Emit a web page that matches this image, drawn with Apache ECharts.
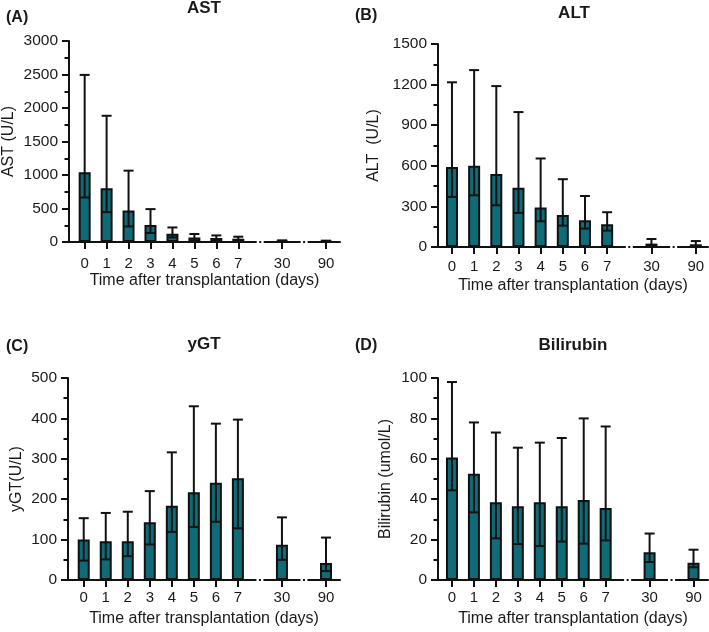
<!DOCTYPE html>
<html><head><meta charset="utf-8">
<script src="https://cdn.jsdelivr.net/npm/echarts@6/dist/echarts.min.js"></script>
<style>html,body{margin:0;padding:0;background:#fff}#c{width:709px;height:632px}</style>
</head><body><div id="c"></div>
<script>
// ---- data ----
const dayLabels = ['0','1','2','3','4','5','6','7','30','90'];
const dayPositions = [0,1,2,3,4,5,6,7,9,11];   // slot index on the x axis (gaps at 8 and 10)
const breakPositions = [8,10];

const astMean = [1042, 804, 470, 253, 124, 69, 60, 49, 12, 12];
const astLow  = [664, 446, 232, 134, 68, 24, 30, 20, 5, 5];
const astHigh = [2494, 1884, 1065, 491, 217, 119, 98, 79, 25, 20];

const altMean = [592, 600, 540, 437, 291, 237, 197, 168, 25, 20];
const altLow  = [370, 382, 308, 252, 190, 158, 136, 121, 0, 0];
const altHigh = [1217, 1307, 1189, 997, 654, 501, 377, 257, 59, 44];

const ygtMean = [100, 96, 96, 143, 184, 217, 241, 252, 87, 42];
const ygtLow  = [48, 51, 59, 88, 119, 131, 144, 128, 50, 22];
const ygtHigh = [153, 166, 169, 220, 316, 430, 387, 397, 155, 105];

const biliMean = [60.7, 52.6, 38.5, 36.5, 38.5, 36.5, 39.6, 35.6, 13.7, 8.6];
const biliLow  = [44.4, 33.5, 20.6, 17.8, 16.8, 19.0, 18.0, 19.6, 8.9, 6.3];
const biliHigh = [98, 78, 73, 65.5, 68, 70.3, 80, 76, 23, 15];

const yTicksAST = {max: 3000, interval: 500};
const yTicksALT = {max: 1500, interval: 300};
const yTicksYGT = {max: 500, interval: 100};
const yTicksBili = {max: 100, interval: 20};

// ---- styling ----
const FONT = 'Liberation Sans';
const INK = '#111';
const TXT = '#1a1a1a';
const BAR = '#0f6b77';

const panels = [
  {grid:{left:68, top:41, width:272, height:201}, xmin:-0.714, xmax:11.636, yt:yTicksAST, yname:'AST (U/L)', ygap:52, xlm:14,
   mean:astMean, low:astLow, high:astHigh, title:'AST', tx:204, ty:8, tag:'(A)', gx:6, gy:18},
  {grid:{left:438, top:44, width:270, height:203}, xmin:-0.63, xmax:11.55, yt:yTicksALT, yname:'ALT  (U/L)', ygap:56, xlm:12,
   mean:altMean, low:altLow, high:altHigh, title:'ALT', tx:574, ty:13, tag:'(B)', gx:355, gy:16},
  {grid:{left:68, top:378, width:272, height:202}, xmin:-0.714, xmax:11.636, yt:yTicksYGT, yname:'yGT(U/L)', ygap:43, xlm:10,
   mean:ygtMean, low:ygtLow, high:ygtHigh, title:'yGT', tx:204, ty:344, tag:'(C)', gx:6, gy:347},
  {grid:{left:438, top:378, width:270, height:202}, xmin:-0.636, xmax:11.66, yt:yTicksBili, yname:'Bilirubin (umol/L)', ygap:44, xlm:10,
   mean:biliMean, low:biliLow, high:biliHigh, title:'Bilirubin', tx:573, ty:345, tag:'(D)', gx:355, gy:346}
];

const grids = [], xAxes = [], yAxes = [], series = [], graphics = [];

panels.forEach((p, gi) => {
  grids.push(Object.assign({containLabel:false}, p.grid));
  xAxes.push({
    type:'value', gridIndex:gi, min:p.xmin, max:p.xmax,
    axisLine:{show:true, onZero:false, lineStyle:{color:INK, width:2}},
    axisTick:{show:true, length:7, customValues:dayPositions, lineStyle:{color:INK, width:2}},
    axisLabel:{customValues:dayPositions, formatter:v => dayLabels[dayPositions.indexOf(v)],
      fontSize:15, color:TXT, fontFamily:FONT, margin:p.xlm},
    splitLine:{show:false},
    name:'Time after transplantation (days)', nameLocation:'middle', nameGap:31,
    nameTextStyle:{fontSize:16, color:TXT, fontFamily:FONT}
  });
  yAxes.push({
    type:'value', gridIndex:gi, min:0, max:p.yt.max, interval:p.yt.interval,
    axisLine:{show:true, onZero:false, lineStyle:{color:INK, width:2}},
    axisTick:{show:true, length:7, lineStyle:{color:INK, width:2}},
    minorTick:{show:true, splitNumber:2, length:4.5, lineStyle:{color:INK, width:2}},
    axisLabel:{fontSize:15.5, color:TXT, fontFamily:FONT, margin:11, formatter:v => String(v)},
    splitLine:{show:false},
    name:p.yname, nameLocation:'middle', nameGap:p.ygap,
    nameTextStyle:{fontSize:16, color:TXT, fontFamily:FONT}
  });
  series.push({
    type:'bar', xAxisIndex:gi, yAxisIndex:gi, barWidth:12,
    data:dayPositions.map((x,i) => [x, p.mean[i]]),
    itemStyle:{color:BAR, borderColor:INK, borderWidth:2},
    z:2, silent:true
  });
  series.push({
    type:'custom', xAxisIndex:gi, yAxisIndex:gi, z:4, silent:true,
    data:dayPositions.map((x,i) => [x, p.low[i], p.high[i]]),
    encode:{x:0, y:[1,2]},
    renderItem:(params, api) => {
      const lo = api.coord([api.value(0), api.value(1)]);
      const hi = api.coord([api.value(0), api.value(2)]);
      const hw = 5;
      const st = {stroke:INK, lineWidth:2, fill:null};
      return {type:'group', children:[
        {type:'line', shape:{x1:lo[0], y1:lo[1], x2:hi[0], y2:hi[1]}, style:st},
        {type:'line', shape:{x1:hi[0]-hw, y1:hi[1], x2:hi[0]+hw, y2:hi[1]}, style:st},
        {type:'line', shape:{x1:lo[0]-hw, y1:lo[1], x2:lo[0]+hw, y2:lo[1]}, style:st}
      ]};
    }
  });
  series.push({
    type:'custom', xAxisIndex:gi, yAxisIndex:gi, z:5, silent:true,
    data:breakPositions.map(x => [x, 0]),
    encode:{x:0, y:1},
    renderItem:(params, api) => {
      const c = api.coord([api.value(0), api.value(1)]);
      return {type:'group', children:[
        {type:'rect', shape:{x:c[0]-3.5, y:c[1]-2, width:7, height:4}, style:{fill:'#fff'}},
        {type:'rect', shape:{x:c[0]-1, y:c[1]-1, width:2, height:2}, style:{fill:INK}}
      ]};
    }
  });
  graphics.push({type:'text', x:p.tx, y:p.ty, style:{text:p.title, font:'bold 17px "Liberation Sans"', fill:TXT, textAlign:'center', textVerticalAlign:'middle'}});
  graphics.push({type:'text', x:p.gx, y:p.gy, style:{text:p.tag, font:'bold 16px "Liberation Sans"', fill:TXT, textAlign:'left', textVerticalAlign:'middle'}});
});

const chart = echarts.init(document.getElementById('c'), null, {renderer:'canvas'});
chart.setOption({
  animation:false,
  backgroundColor:'#fff',
  textStyle:{fontFamily:FONT},
  grid:grids, xAxis:xAxes, yAxis:yAxes, series:series, graphic:graphics
});
</script>
</body></html>
